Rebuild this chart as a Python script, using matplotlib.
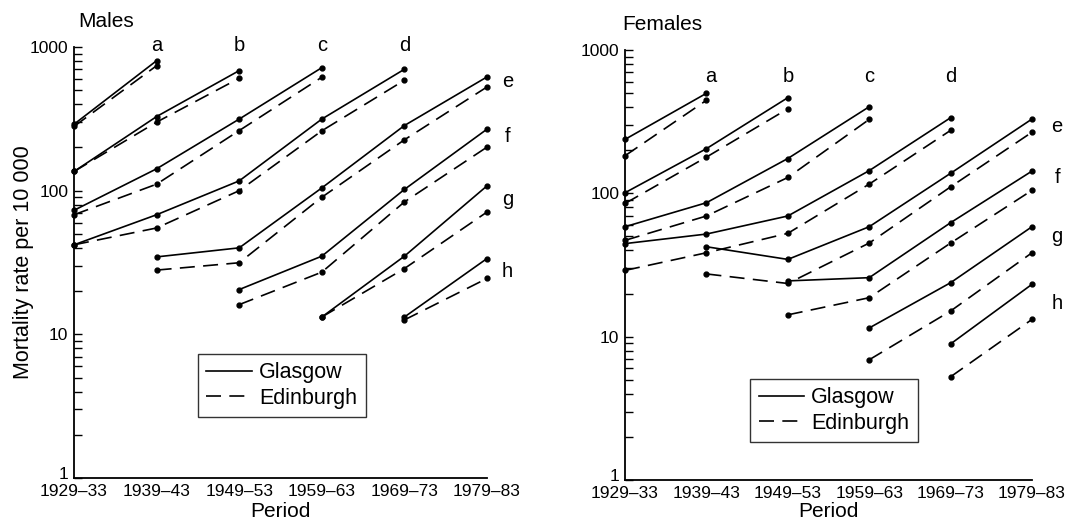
import numpy as np
import matplotlib
matplotlib.use("Agg")
import matplotlib.pyplot as plt
import matplotlib.transforms as mtransforms
from matplotlib.lines import Line2D
from matplotlib.ticker import FixedLocator, LogLocator, NullFormatter

plt.rcParams['font.family'] = ['Liberation Sans', 'DejaVu Sans']

nan = np.nan
periods = ["1929\u201333", "1939\u201343", "1949\u201353", "1959\u201363", "1969\u201373", "1979\u201383"]
cohorts = ["a", "b", "c", "d", "e", "f", "g", "h"]

# mortality rate per 10 000, one row per cohort, one column per period
males_glasgow = [
    [290, 803, nan, nan, nan, nan],
    [136, 328, 685, nan, nan, nan],
    [73, 142, 315, 718, nan, nan],
    [42, 68, 117, 315, 700, nan],
    [nan, 34.6, 40, 104.5, 284, 619],
    [nan, nan, 20.5, 35, 102, 268],
    [nan, nan, nan, 13.2, 35, 108],
    [nan, nan, nan, nan, 13.2, 33.7],
]
males_edinburgh = [
    [280, 741, nan, nan, nan, nan],
    [136, 300, 606, nan, nan, nan],
    [68, 111, 262, 616, nan, nan],
    [42, 55, 100, 261, 587, nan],
    [nan, 28, 31.5, 90, 226, 527],
    [nan, nan, 16.1, 27.1, 83.5, 201],
    [nan, nan, nan, 13.2, 28.7, 71],
    [nan, nan, nan, nan, 12.6, 24.5],
]
females_glasgow = [
    [238, 499, nan, nan, nan, nan],
    [101, 205, 465, nan, nan, nan],
    [58.5, 86, 175, 402, nan, nan],
    [44.6, 52, 69.5, 144, 337, nan],
    [nan, 42.4, 34.6, 58.5, 138, 330],
    [nan, nan, 24.5, 25.8, 62.4, 143],
    [nan, nan, nan, 11.5, 23.8, 58.5],
    [nan, nan, nan, nan, 8.9, 23.2],
]
females_edinburgh = [
    [183, 446, nan, nan, nan, nan],
    [85, 179, 389, nan, nan, nan],
    [47, 69.5, 129, 328, nan, nan],
    [29, 38.5, 52.6, 116, 275, nan],
    [nan, 27.4, 23.5, 45, 111, 267],
    [nan, nan, 14.2, 18.7, 45, 105],
    [nan, nan, nan, 6.9, 15.1, 38.5],
    [nan, nan, nan, nan, 5.25, 13.2],
]

fig = plt.figure(figsize=(10.76, 5.21), dpi=100)
ax_m = fig.add_axes([0.0688, 0.0825, 0.3838, 0.8273])
ax_f = fig.add_axes([0.5809, 0.0787, 0.3782, 0.8253])

x = np.arange(len(periods))
lw = 1.2
dash = (0, (9, 5))


def draw(ax, glas, edin, title, title_x, label_pos, legend_box, xpad):
    for row in glas:
        ax.plot(x, row, color="black", lw=lw, marker="o", ms=3.5, clip_on=False)
    for row in edin:
        ax.plot(x, row, color="black", lw=lw, ls=dash, marker="o", ms=3.5,
                clip_on=False)
    ax.set_yscale("log")
    ax.set_ylim(1, 1000)
    ax.set_xlim(0, 5)
    ax.set_xticks(x)
    ax.set_xticklabels(periods, fontsize=12.5)
    ax.yaxis.set_major_locator(FixedLocator([1, 10, 100, 1000]))
    ax.set_yticklabels(["1", "10", "100", "1000"], fontsize=12.5)
    ax.yaxis.set_minor_locator(LogLocator(base=10, subs=np.arange(2, 10)))
    ax.yaxis.set_minor_formatter(NullFormatter())
    ax.tick_params(axis="y", which="both", direction="in", length=6, width=1, pad=4)
    ax.tick_params(axis="x", length=0, pad=4.5)
    # the "1" sits a little above its tick in the original
    lab1 = ax.get_yticklabels()[0]
    lab1.set_transform(lab1.get_transform() +
                       mtransforms.ScaledTranslation(0, 5 / 100, fig.dpi_scale_trans))
    for s in ["top", "right"]:
        ax.spines[s].set_visible(False)
    for s in ["left", "bottom"]:
        ax.spines[s].set_linewidth(1.3)
    ax.set_xlabel("Period", fontsize=15, labelpad=xpad)
    ax.text(title_x, 1.06, title, transform=ax.transAxes, fontsize=15,
            ha="left", va="center")
    for name, (px, py) in zip(cohorts, label_pos):
        ax.text(px, py, name, fontsize=14.5, ha="center", va="center", clip_on=False)
    handles = [Line2D([], [], color="black", lw=lw),
               Line2D([], [], color="black", lw=lw, ls=dash)]
    leg = ax.legend(handles, ["Glasgow", "Edinburgh"], loc="lower left",
                    bbox_to_anchor=legend_box, fontsize=15.5, frameon=True,
                    fancybox=False, edgecolor="black", handlelength=2.1,
                    handletextpad=0.35, borderpad=0.4, labelspacing=0.2,
                    borderaxespad=0)
    leg.get_frame().set_linewidth(1.0)


draw(ax_m, males_glasgow, males_edinburgh, "Males", 0.01,
     [(1, 1032), (2, 1032), (3, 1032), (4, 1032),
      (5.25, 571), (5.25, 237), (5.25, 86.6), (5.25, 27.5)],
     (0.2995, 0.141), 2)
ax_m.set_ylabel("Mortality rate per 10 000", fontsize=15.5, labelpad=-3)

draw(ax_f, females_glasgow, females_edinburgh, "Females", -0.006,
     [(1.05, 658), (2.0, 658), (3.0, 658), (4.0, 658),
      (5.31, 295), (5.31, 130), (5.31, 49.8), (5.31, 17.1)],
     (0.307, 0.088), 0.5)

fig.savefig("out.png", dpi=100)
